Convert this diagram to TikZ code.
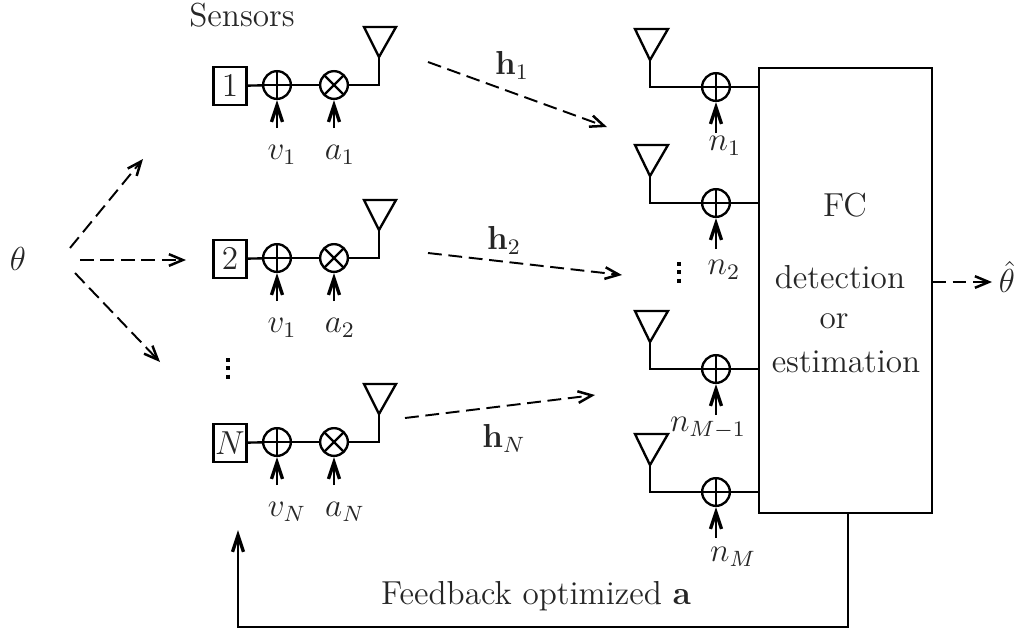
\documentclass[12pt,tikz,border=0pt]{standalone}
\usepackage{amsmath}
\usetikzlibrary{arrows.meta}
\tikzset{
  x=0.361pt,y=-0.361pt,
  wire/.style={draw,line width=0.85pt},
  sumnode/.style={circle,draw,inner sep=0pt,minimum size=10pt,line width=0.85pt,
    path picture={\draw[line width=0.85pt] (path picture bounding box.north)--(path picture bounding box.south)
      (path picture bounding box.west)--(path picture bounding box.east);}},
  mulnode/.style={circle,draw,inner sep=0pt,minimum size=10pt,line width=0.85pt,
    path picture={\draw[line width=0.85pt] (path picture bounding box.north west)--(path picture bounding box.south east)
      (path picture bounding box.south west)--(path picture bounding box.north east);}},
  sensorbox/.style={draw,rectangle,inner sep=0pt,minimum width=11.9pt,minimum height=13.4pt,line width=0.75pt},
  antenna/.style={draw,line width=0.85pt,line join=miter},
  inarrow/.style={line width=1pt,-{Straight Barb[length=6pt,width=4pt,line width=1.2pt]}},
  radio/.style={line width=0.7pt,dash pattern=on 5pt off 2.4pt,-{Straight Barb[length=5pt,width=4.2pt,line width=0.9pt]}},
  fbarrow/.style={line width=0.85pt,-{Straight Barb[length=6pt,width=4pt,line width=1.2pt]}},
  dotcol/.style={line width=1.5pt,dash pattern=on 1.5pt off 1.5pt},
  lbl/.style={inner sep=0pt,text=black!85},
}
\begin{document}
\begin{tikzpicture}
\useasboundingbox (0,0) rectangle (1021,630);
% sensors
\node[lbl] (sensors) at (242,15) {Sensors};
\foreach \n/\lab/\y/\vl/\al/\lx/\ax in {a/1/85/{v_1}/{a_1}/282/340,b/2/258/{v_1}/{a_2}/282/340,c/N/442/{v_N}/{a_N}/287/345}{
  \node[sensorbox,text=black!85] (box\n) at (230,\y+1) {$\lab$};
  \node[sumnode] (add\n) at (277,\y) {};
  \node[mulnode] (mul\n) at (334,\y) {};
  \coordinate (corner\n) at (379,\y);
  \coordinate (apex\n) at (379,\y-28);
  \coordinate (tl\n) at (364,\y-58);
  \coordinate (tr\n) at (396,\y-58);
  \coordinate (vin\n) at (277,\y+43);
  \coordinate (ain\n) at (334,\y+43);
  \draw[wire] (box\n) -- (add\n);
  \draw[wire] (add\n) -- (mul\n);
  \draw[wire] (mul\n) -- (corner\n) -- (apex\n);
  \draw[antenna] (apex\n) -- (tl\n) -- (tr\n) -- cycle;
  \draw[inarrow] (vin\n) -- (add\n);
  \draw[inarrow] (ain\n) -- (mul\n);
  \node[lbl] (vlab\n) at (\lx,\y+70) {$\vl$};
  \node[lbl] (alab\n) at (\ax,\y+70) {$\al$};
}
% fusion centre
\node[draw,rectangle,minimum width=62.5pt,minimum height=160.6pt,inner sep=0pt,line width=0.75pt] (fc) at (845.5,290.5) {};
\node[lbl] (fctxt) at (845,205) {FC};
\node[lbl] (det) at (840,277) {detection};
\node[lbl] (or) at (834,321) {or};
\node[lbl] (est) at (846,362) {estimation};
% receivers
\foreach \n/\y/\lx/\ly/\lab in {p/87/725/146/{n_1},q/203/724/270/{n_2},r/369/708/428/{n_{M-1}},s/492/733/557/{n_M}}{
  \node[sumnode] (radd\n) at (716,\y) {};
  \coordinate (rcorner\n) at (650,\y);
  \coordinate (rapex\n) at (650,\y-27);
  \coordinate (rtl\n) at (635,\y-58);
  \coordinate (rtr\n) at (668,\y-58);
  \coordinate (rin\n) at (716,\y+46);
  \coordinate (rout\n) at (759,\y);
  \draw[antenna] (rapex\n) -- (rtl\n) -- (rtr\n) -- cycle;
  \draw[wire] (rapex\n) -- (rcorner\n) -- (radd\n);
  \draw[wire] (radd\n) -- (rout\n);
  \draw[inarrow] (rin\n) -- (radd\n);
  \node[lbl] (rlab\n) at (\lx,\ly) {$\lab$};
}
% source
\node[lbl] (theta) at (18,259) {$\theta$};
\coordinate (s1a) at (70,248); \coordinate (s1b) at (143,159);
\coordinate (s2a) at (80,260); \coordinate (s2b) at (186,260);
\coordinate (s3a) at (75,273); \coordinate (s3b) at (160,362);
\draw[radio] (s1a) -- (s1b);
\draw[radio] (s2a) -- (s2b);
\draw[radio] (s3a) -- (s3b);
% channels
\coordinate (h1a) at (428,62); \coordinate (h1b) at (607,127);
\coordinate (h2a) at (428,253); \coordinate (h2b) at (622,275);
\coordinate (h3a) at (405,418); \coordinate (h3b) at (595,395);
\draw[radio] (h1a) -- (h1b);
\draw[radio] (h2a) -- (h2b);
\draw[radio] (h3a) -- (h3b);
\node[lbl] (h1) at (512,65) {$\mathbf{h}_1$};
\node[lbl] (h2) at (504,240) {$\mathbf{h}_2$};
\node[lbl] (h3) at (504,438) {$\mathbf{h}_N$};
% output
\node[lbl] (thetahat) at (1007,277) {$\hat{\theta}$};
\coordinate (outa) at (932,282); \coordinate (outb) at (992,282);
\draw[radio] (outa) -- (outb);
% dots
\coordinate (d1a) at (228,358); \coordinate (d1b) at (228,382);
\coordinate (d2a) at (679,262); \coordinate (d2b) at (679,286);
\draw[dotcol] (d1a) -- (d1b);
\draw[dotcol] (d2a) -- (d2b);
% feedback
\coordinate (f1) at (848,513); \coordinate (f2) at (848,627); \coordinate (f3) at (238,627); \coordinate (f4) at (238,530);
\draw[fbarrow] (f1) -- (f2) -- (f3) -- (f4);
\node[lbl] (fbtxt) at (536,596) {Feedback optimized $\mathbf{a}$};
\end{tikzpicture}
\end{document}
